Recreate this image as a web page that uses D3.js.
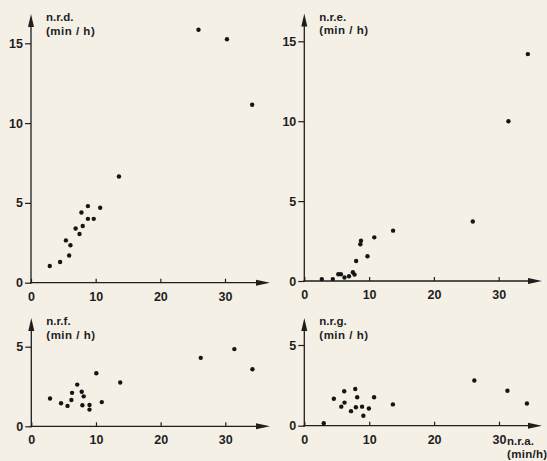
<!DOCTYPE html>
<html>
<head>
<meta charset="utf-8">
<script src="https://cdn.jsdelivr.net/npm/d3@7"></script>
<style>
  html, body { margin: 0; padding: 0; background: #f4f0e6; }
  svg { display: block; }
  text { font-family: "Liberation Sans", Arial, sans-serif; font-weight: bold; fill: #1e1e1e; }
</style>
</head>
<body>
<div id="chart"></div>
<script>
// n.r.a. (x) against n.r.d., n.r.e., n.r.f., n.r.g. (min/h)
const xTicks = [0, 10, 20, 30]
const yTicksTall = [0, 5, 10, 15]
const yTicksShort = [0, 5]

const nrdX = [2.9, 4.5, 5.4, 5.9, 6.1, 6.9, 7.5, 7.8, 8.0, 8.8, 8.8, 9.7, 10.7, 13.6, 25.9, 30.3, 34.2]
const nrdY = [1.05, 1.3, 2.65, 1.7, 2.35, 3.4, 3.05, 4.4, 3.55, 4.8, 4.0, 4.0, 4.7, 6.65, 15.85, 15.25, 11.15]

const nreX = [2.7, 4.4, 5.25, 5.65, 6.2, 6.9, 7.5, 7.75, 8.0, 8.65, 8.75, 9.75, 10.8, 13.7, 26.0, 31.5, 34.5]
const nreY = [0.12, 0.12, 0.42, 0.42, 0.22, 0.3, 0.55, 0.4, 1.25, 2.3, 2.52, 1.55, 2.73, 3.15, 3.72, 10.0, 14.2]

const nrfX = [2.9, 4.6, 5.6, 6.2, 6.3, 7.1, 7.8, 7.9, 8.1, 9.0, 9.0, 10.05, 10.9, 13.75, 26.2, 31.4, 34.2]
const nrfY = [1.75, 1.45, 1.28, 1.65, 2.1, 2.62, 2.17, 1.32, 1.88, 1.34, 1.05, 3.33, 1.52, 2.75, 4.3, 4.85, 3.58]

const nrgX = [3.0, 4.55, 5.7, 6.2, 6.15, 7.2, 7.85, 7.95, 8.15, 8.9, 9.1, 9.95, 10.75, 13.65, 26.2, 31.3, 34.3]
const nrgY = [0.15, 1.67, 1.18, 1.43, 2.13, 0.9, 2.27, 1.14, 1.76, 1.18, 0.62, 1.07, 1.76, 1.32, 2.8, 2.17, 1.38]

const panels = [
  { name: 'n.r.d.', xs: nrdX, ys: nrdY, yMax: 15, yTicks: yTicksTall,
    x0: 31, x30: 225, y0: 282.7, yTop: 43.3, tipY: 14, tipX: 270 },
  { name: 'n.r.e.', xs: nreX, ys: nreY, yMax: 15, yTicks: yTicksTall,
    x0: 304.3, x30: 498.7, y0: 281, yTop: 41.3, tipY: 13.5, tipX: 542 },
  { name: 'n.r.f.', xs: nrfX, ys: nrfY, yMax: 5, yTicks: yTicksShort,
    x0: 31.3, x30: 225.3, y0: 426.3, yTop: 346.7, tipY: 318, tipX: 270 },
  { name: 'n.r.g.', xs: nrgX, ys: nrgY, yMax: 5, yTicks: yTicksShort,
    x0: 304.3, x30: 499, y0: 425.7, yTop: 345, tipY: 318, tipX: 542 }
]

const svg = d3.select('#chart')
  .append('svg')
  .attr('width', 547)
  .attr('height', 461)

svg.append('rect').attr('width', 547).attr('height', 461).attr('fill', '#f4f0e6')

panels.forEach(function (p) {
  const x = d3.scaleLinear().domain([0, 30]).range([p.x0, p.x30])
  const y = d3.scaleLinear().domain([0, p.yMax]).range([p.y0, p.yTop])
  const g = svg.append('g')

  // axes lines with arrow heads
  g.append('line')
    .attr('x1', p.x0).attr('x2', p.x0)
    .attr('y1', p.y0 + 1).attr('y2', p.tipY + 8)
    .attr('stroke', '#1e1e1e').attr('stroke-width', 1.3)
  g.append('path')
    .attr('d', 'M' + p.x0 + ',' + p.tipY + 'L' + (p.x0 - 3) + ',' + (p.tipY + 13) +
      'L' + (p.x0 + 3) + ',' + (p.tipY + 13) + 'Z')
    .attr('fill', '#1e1e1e')
  g.append('line')
    .attr('x1', p.x0 - 1).attr('x2', p.tipX - 8)
    .attr('y1', p.y0).attr('y2', p.y0)
    .attr('stroke', '#1e1e1e').attr('stroke-width', 1.3)
  g.append('path')
    .attr('d', 'M' + p.tipX + ',' + p.y0 + 'L' + (p.tipX - 14) + ',' + (p.y0 - 3) +
      'L' + (p.tipX - 14) + ',' + (p.y0 + 3) + 'Z')
    .attr('fill', '#1e1e1e')

  const yAxis = g.append('g')
    .attr('transform', 'translate(' + p.x0 + ',0)')
    .call(d3.axisLeft(y).tickValues(p.yTicks).tickFormat(d3.format('d'))
      .tickSize(6).tickPadding(2).tickSizeOuter(0))
  yAxis.select('.domain').remove()

  const xAxis = g.append('g')
    .attr('transform', 'translate(0,' + p.y0 + ')')
    .call(d3.axisBottom(x).tickValues(xTicks).tickFormat(d3.format('d'))
      .tickSize(-4).tickPadding(9).tickSizeOuter(0))
  xAxis.select('.domain').remove()

  g.selectAll('.tick line').attr('stroke', '#1e1e1e').attr('stroke-width', 1.2)
  g.selectAll('.tick text')
    .attr('fill', '#1e1e1e')
    .style('font-size', '12.5px')
    .style('font-family', '"Liberation Sans", Arial, sans-serif')
    .style('font-weight', 'bold')

  // axis title
  g.append('text')
    .attr('x', p.x0 + 15).attr('y', p.tipY + 7)
    .style('font-size', '11.5px')
    .text(p.name)
  g.append('text')
    .attr('x', p.x0 + 15).attr('y', p.tipY + 20.5)
    .style('font-size', '11.5px')
    .style('letter-spacing', '0.5px')
    .text('(min / h)')

  g.selectAll('circle')
    .data(p.xs)
    .enter()
    .append('circle')
    .attr('cx', function (d) { return x(d) })
    .attr('cy', function (d, i) { return y(p.ys[i]) })
    .attr('r', 2.2)
    .attr('fill', '#151515')
})

svg.append('text')
  .attr('x', 507).attr('y', 445)
  .style('font-size', '11.5px')
  .text('n.r.a.')
svg.append('text')
  .attr('x', 507).attr('y', 458)
  .style('font-size', '11.5px')
  .style('letter-spacing', '0.3px')
  .text('(min/h)')
</script>
</body>
</html>
